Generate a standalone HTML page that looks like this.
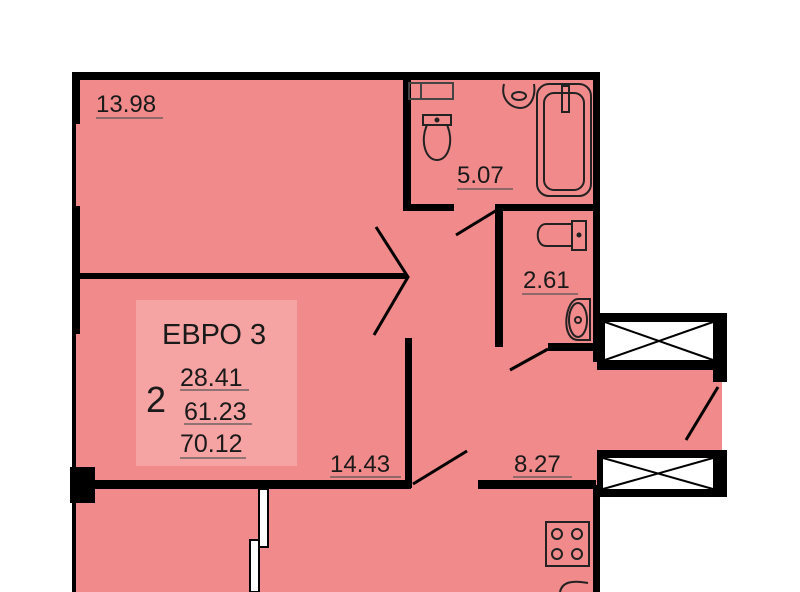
<!DOCTYPE html>
<html><head><meta charset="utf-8"><style>
html,body{margin:0;padding:0;background:#fff;}
svg{display:block}
text{font-family:"Liberation Sans",sans-serif;fill:#1a1a1a}
</style></head><body>
<svg width="800" height="592" viewBox="0 0 800 592" xmlns="http://www.w3.org/2000/svg">
<rect width="800" height="592" fill="#fff"/>
<!-- pink floor -->
<rect x="76" y="76" width="521" height="516" fill="#f08a8b"/>
<polygon points="597,368 722,368 722,452 597,452" fill="#f08a8b"/>
<!-- label box -->
<rect x="136" y="300" width="161" height="166" fill="#f5a3a3"/>
<!-- outer walls -->
<rect x="72" y="72" width="528" height="8" fill="#000"/>
<rect x="72" y="72" width="8" height="52" fill="#000"/>
<rect x="72" y="124" width="4" height="82" fill="#000"/>
<rect x="72" y="206" width="8" height="128" fill="#000"/>
<rect x="72" y="334" width="4" height="133" fill="#000"/>
<rect x="70" y="467" width="25" height="36" fill="#000"/>
<rect x="72" y="503" width="4" height="89" fill="#000"/>
<rect x="593" y="72" width="7" height="290" fill="#000"/>
<rect x="593" y="485" width="7" height="107" fill="#000"/>
<!-- balcony windows -->
<rect x="597" y="313" width="130" height="57" fill="#000"/>
<rect x="605" y="322" width="108" height="38" fill="#fff"/>
<line x1="605" y1="322" x2="713" y2="360" stroke="#000" stroke-width="2"/>
<line x1="605" y1="360" x2="713" y2="322" stroke="#000" stroke-width="2"/>
<rect x="713" y="360" width="14" height="22" fill="#000"/>
<rect x="597" y="450" width="130" height="47" fill="#000"/>
<rect x="603" y="458" width="110" height="31" fill="#fff"/>
<line x1="603" y1="458" x2="713" y2="489" stroke="#000" stroke-width="2"/>
<line x1="603" y1="489" x2="713" y2="458" stroke="#000" stroke-width="2"/>
<line x1="718" y1="387" x2="686" y2="440" stroke="#000" stroke-width="3"/>
<!-- interior walls -->
<rect x="80" y="273" width="327" height="6" fill="#000"/>
<polyline points="376,227 408,277 374,335" fill="none" stroke="#000" stroke-width="3"/>
<rect x="403" y="80" width="8" height="131" fill="#000"/>
<rect x="403" y="204" width="51" height="7" fill="#000"/>
<rect x="496" y="204" width="100" height="7" fill="#000"/>
<rect x="495" y="204" width="8" height="143" fill="#000"/>
<line x1="456" y1="235" x2="497" y2="210" stroke="#000" stroke-width="3"/>
<rect x="548" y="343" width="47" height="8" fill="#000"/>
<line x1="510" y1="370" x2="548" y2="349" stroke="#000" stroke-width="3"/>
<rect x="405" y="338" width="7" height="150" fill="#000"/>
<rect x="80" y="480" width="331" height="9" fill="#000"/>
<line x1="413" y1="484" x2="467" y2="451" stroke="#000" stroke-width="3"/>
<rect x="478" y="480" width="118" height="9" fill="#000"/>
<rect x="259" y="489" width="9" height="58" fill="#fff" stroke="#000" stroke-width="2"/>
<rect x="250" y="540" width="9" height="52" fill="#fff" stroke="#000" stroke-width="2"/>
<!-- fixtures -->
<rect x="409" y="83" width="44" height="16" fill="none" stroke="#444" stroke-width="2"/>
<line x1="421" y1="83" x2="421" y2="99" stroke="#444" stroke-width="2"/>
<rect x="423" y="115" width="28" height="10" fill="none" stroke="#222" stroke-width="2"/>
<circle cx="437" cy="120" r="2.5" fill="#222"/>
<path d="M427,125 C420,140 425,160 437,160 C449,160 454,140 447,125 Z" fill="none" stroke="#222" stroke-width="2"/>
<path d="M504,84 C500,100 512,108 520,108 C530,108 536,98 534,84" fill="none" stroke="#222" stroke-width="2"/>
<ellipse cx="519" cy="96" rx="7" ry="4" fill="none" stroke="#222" stroke-width="2"/>
<rect x="537" y="84" width="54" height="112" rx="12" fill="none" stroke="#222" stroke-width="2"/>
<rect x="544" y="93" width="40" height="97" rx="10" fill="none" stroke="#222" stroke-width="2"/>
<rect x="562" y="86" width="7" height="26" fill="none" stroke="#222" stroke-width="2"/>
<path d="M572,224 L546,224 C535,224 535,246 546,246 L572,246" fill="none" stroke="#222" stroke-width="2"/>
<rect x="572" y="221" width="14" height="29" fill="none" stroke="#222" stroke-width="2"/>
<circle cx="579" cy="235" r="2.5" fill="#222"/>
<path d="M590,299 L578,299 C565,299 560,340 578,340 L590,340 Z" fill="none" stroke="#222" stroke-width="2"/>
<ellipse cx="578" cy="320" rx="9" ry="17" fill="none" stroke="#222" stroke-width="2"/>
<circle cx="578" cy="320" r="3" fill="none" stroke="#222" stroke-width="2"/>
<rect x="546" y="522" width="43" height="44" fill="none" stroke="#222" stroke-width="2"/>
<circle cx="557" cy="534" r="5" fill="none" stroke="#222" stroke-width="2"/>
<circle cx="577" cy="534" r="5" fill="none" stroke="#222" stroke-width="2"/>
<circle cx="557" cy="554" r="5" fill="none" stroke="#222" stroke-width="2"/>
<circle cx="577" cy="554" r="5" fill="none" stroke="#222" stroke-width="2"/>
<path d="M560,592 C562,582 572,580 588,583" fill="none" stroke="#222" stroke-width="2"/>
<!-- labels -->
<text x="96" y="112" font-size="24">13.98</text>
<line x1="96" y1="118" x2="163" y2="118" stroke="#555" stroke-width="1.2"/>
<text x="457" y="183" font-size="24">5.07</text>
<line x1="457" y1="189" x2="513" y2="189" stroke="#555" stroke-width="1.2"/>
<text x="523" y="288" font-size="24">2.61</text>
<line x1="522" y1="294" x2="578" y2="294" stroke="#555" stroke-width="1.2"/>
<text x="330" y="472" font-size="24">14.43</text>
<line x1="330" y1="477" x2="401" y2="477" stroke="#555" stroke-width="1.2"/>
<text x="514" y="472" font-size="24">8.27</text>
<line x1="513" y1="477" x2="572" y2="477" stroke="#555" stroke-width="1.2"/>
<text x="162" y="344" font-size="29">ЕВРО 3</text>
<text x="146" y="412" font-size="36">2</text>
<text x="180" y="386" font-size="25">28.41</text>
<line x1="180" y1="390" x2="249" y2="390" stroke="#555" stroke-width="1.2"/>
<text x="184" y="420" font-size="25">61.23</text>
<line x1="184" y1="424" x2="252" y2="424" stroke="#555" stroke-width="1.2"/>
<text x="180" y="452" font-size="25">70.12</text>
<line x1="180" y1="458" x2="246" y2="458" stroke="#555" stroke-width="1.2"/>
</svg>
</body></html>
